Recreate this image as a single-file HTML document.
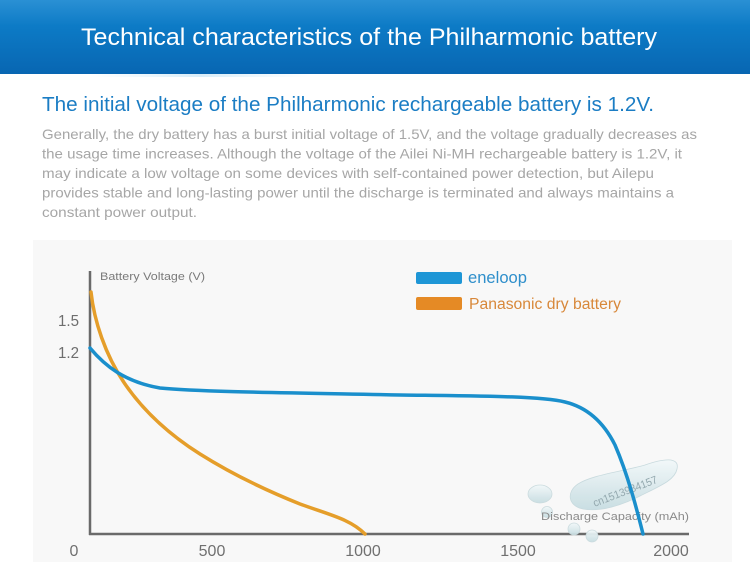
<!DOCTYPE html>
<html><head><meta charset="utf-8"><style>
html,body{margin:0;padding:0;background:#fff;}
svg{display:block;}
</style></head><body>
<svg width="750" height="574" viewBox="0 0 750 574" xmlns="http://www.w3.org/2000/svg" font-family="Liberation Sans, Arial, sans-serif">
<defs>
<linearGradient id="hdr" x1="0" y1="0" x2="0" y2="1">
<stop offset="0" stop-color="#2a90d4"/>
<stop offset="0.35" stop-color="#0d7bc6"/>
<stop offset="1" stop-color="#0866b2"/>
</linearGradient>
<linearGradient id="shine" x1="0" y1="0" x2="1" y2="0">
<stop offset="0" stop-color="#d6ecf8" stop-opacity="0"/>
<stop offset="0.5" stop-color="#cfe8f7" stop-opacity="0.8"/>
<stop offset="1" stop-color="#d6ecf8" stop-opacity="0"/>
</linearGradient>
<linearGradient id="drop" x1="0" y1="0" x2="0" y2="1">
<stop offset="0" stop-color="#f2f8f9"/>
<stop offset="1" stop-color="#c7dde2"/>
</linearGradient>
</defs>
<rect x="0" y="0" width="750" height="574" fill="#ffffff"/>
<!-- header -->
<rect x="0" y="0" width="750" height="74" fill="url(#hdr)"/>
<rect x="90" y="74" width="220" height="3" fill="url(#shine)"/>
<text x="81" y="45" font-size="24" fill="#ffffff" textLength="576" lengthAdjust="spacingAndGlyphs">Technical characteristics of the Philharmonic battery</text>

<!-- subtitle -->
<text x="42" y="111" font-size="20" fill="#1b7dc4" textLength="612" lengthAdjust="spacingAndGlyphs">The initial voltage of the Philharmonic rechargeable battery is 1.2V.</text>

<!-- paragraph -->
<g font-size="14" fill="#a6a6a6">
<text x="42" y="139" textLength="655" lengthAdjust="spacingAndGlyphs">Generally, the dry battery has a burst initial voltage of 1.5V, and the voltage gradually decreases as</text>
<text x="42" y="158.5" textLength="640" lengthAdjust="spacingAndGlyphs">the usage time increases. Although the voltage of the Ailei Ni-MH rechargeable battery is 1.2V, it</text>
<text x="42" y="178" textLength="612" lengthAdjust="spacingAndGlyphs">may indicate a low voltage on some devices with self-contained power detection, but Ailepu</text>
<text x="42" y="197.5" textLength="632" lengthAdjust="spacingAndGlyphs">provides stable and long-lasting power until the discharge is terminated and always maintains a</text>
<text x="42" y="217" textLength="155" lengthAdjust="spacingAndGlyphs">constant power output.</text>
</g>

<!-- chart panel -->
<rect x="33" y="240" width="699" height="322" fill="#f8f8f8"/>

<!-- axes -->
<line x1="90" y1="271" x2="90" y2="535" stroke="#6a6a6a" stroke-width="2.5"/>
<line x1="89" y1="534" x2="689" y2="534" stroke="#6a6a6a" stroke-width="2.5"/>

<text x="100" y="280" font-size="11" fill="#7a7a7a" textLength="105" lengthAdjust="spacingAndGlyphs">Battery Voltage (V)</text>
<g font-size="16" fill="#6e6e6e">
<text x="58" y="326" textLength="21" lengthAdjust="spacingAndGlyphs">1.5</text>
<text x="58" y="358" textLength="21" lengthAdjust="spacingAndGlyphs">1.2</text>
</g>
<g font-size="16" fill="#707070" text-anchor="middle">
<text x="74" y="556">0</text>
<text x="212" y="556">500</text>
<text x="363" y="556">1000</text>
<text x="518" y="556">1500</text>
<text x="671" y="556">2000</text>
</g>

<!-- legend -->
<rect x="416" y="272" width="46" height="12" rx="2" fill="#1e96d6"/>
<text x="468" y="283" font-size="16.5" fill="#2f8fcb" textLength="59" lengthAdjust="spacingAndGlyphs">eneloop</text>
<rect x="416" y="297" width="46" height="13" rx="2" fill="#e58a25"/>
<text x="469" y="309" font-size="15.5" fill="#d8883a" textLength="152" lengthAdjust="spacingAndGlyphs">Panasonic dry battery</text>

<!-- watermark -->
<g opacity="0.95">
<ellipse cx="540" cy="494" rx="12" ry="9" fill="url(#drop)" stroke="#c9dadd" stroke-width="0.8"/>
<circle cx="547" cy="512" r="5.5" fill="url(#drop)" stroke="#c9dadd" stroke-width="0.8"/>
<circle cx="574" cy="529" r="6" fill="url(#drop)" stroke="#c9dadd" stroke-width="0.8"/>
<circle cx="592" cy="536" r="6" fill="url(#drop)" stroke="#c9dadd" stroke-width="0.8"/>
<path d="M578,484 C592,475 620,472 645,465 C662,459 680,456 677,469 C675,480 660,486 640,496 C620,506 600,512 583,509 C568,506 566,492 578,484 Z" fill="url(#drop)" stroke="#c6d9dd" stroke-width="0.8"/>
<text x="625" y="495" font-size="11" fill="#8ea4ab" text-anchor="middle" transform="rotate(-21 625 491)" textLength="68" lengthAdjust="spacingAndGlyphs">cn1513984157</text>
</g>
<text x="541" y="520" font-size="11" fill="#8a8a8a" textLength="148" lengthAdjust="spacingAndGlyphs">Discharge Capacity (mAh)</text>

<!-- series -->
<path d="M91,292 C94,320 105,355 125,384 C145,413 170,435 200,454 C235,476 270,492 300,504 C330,515 350,519 365,534" fill="none" stroke="#e59e2a" stroke-width="3.5" stroke-linecap="round"/>
<path d="M90,348 C105,366 125,382 160,388 C200,392 300,393 400,395 C480,396 540,396 565,402 C590,408 605,425 615,445 C628,475 637,510 643,534" fill="none" stroke="#1a8fcc" stroke-width="3.5" stroke-linecap="round"/>
</svg>
</body></html>
